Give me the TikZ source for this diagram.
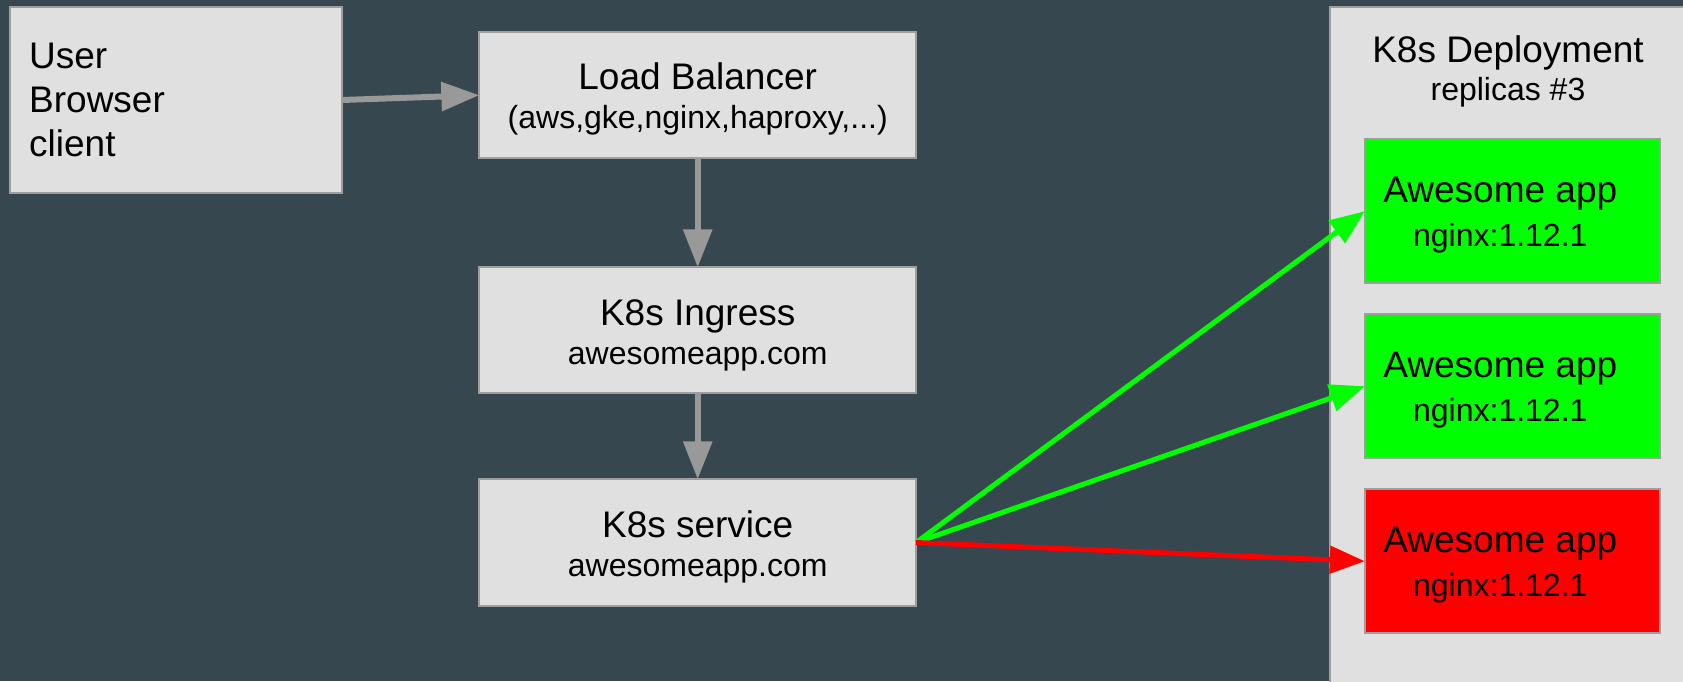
\documentclass[tikz,border=0pt]{standalone}
\usepackage{fontspec}
\setmainfont{Liberation Sans}
\usetikzlibrary{positioning, arrows.meta}
\definecolor{bg}{HTML}{37474F}
\definecolor{boxfill}{HTML}{E0E0E0}
\definecolor{boxline}{HTML}{9E9E9E}
\definecolor{linkgray}{HTML}{999999}
\definecolor{podgreen}{HTML}{00FF00}
\definecolor{podred}{HTML}{FF0000}
\newcommand{\boxtitle}[1]{{\fontsize{37}{39}\selectfont\rule{0pt}{35pt}#1}}
\newcommand{\podtext}{{\fontsize{37}{44}\selectfont\rule{0pt}{33pt}Awesome app}\hspace*{24pt}\\nginx:1.12.1\hspace*{24pt}}
\tikzset{%
  box/.style={draw=boxline, fill=boxfill, line width=2pt, rectangle, inner sep=0pt,
    outer sep=0pt, align=center, font=\fontsize{32}{39}\selectfont},
  pod/.style={box, minimum width=295pt, minimum height=144.5pt, font=\fontsize{32}{44}\selectfont},
  link/.style={draw=linkgray, line width=6pt, -{Triangle[length=38pt,width=28pt]}},
  live/.style={draw=podgreen, line width=5pt, -{Triangle[length=35pt,width=27pt]}},
  dead/.style={draw=podred, line width=5pt, -{Triangle[length=35pt,width=27pt]}},
}
\begin{document}
\begin{tikzpicture}[x=1pt, y=-1pt]
      \fill[bg] (0,0) rectangle (1683,681);
      \useasboundingbox (0,0) rectangle (1683,681);
      \node[box, align=left, text width=294pt, inner xsep=19pt, minimum height=185.4pt,
        font=\fontsize{37}{43.7}\selectfont] (usr) at (176.2,100) {User\\Browser\\client};
      \node[box, minimum width=436.7pt, minimum height=126.3pt] (lb) at (697.7,95.2)
        {\boxtitle{Load Balancer}\\(aws,gke,nginx,haproxy,...)};
      \node[box, minimum width=436.7pt, minimum height=126pt, below=109pt of lb] (ing)
        {\boxtitle{K8s Ingress}\\awesomeapp.com};
      \node[box, minimum width=436.7pt, minimum height=126.3pt, below=86pt of ing] (svc)
        {\boxtitle{K8s service}\\awesomeapp.com};
      \node[box, minimum width=356pt, minimum height=690pt, anchor=north west] (dep) at (1330,7.3) {};
      \node[below=28.5pt of dep.north, inner sep=0pt, align=center,
        font=\fontsize{32}{38}\selectfont] (deptitle)
        {{\fontsize{37}{38}\selectfont K8s Deployment}\\replicas \#3};
      \node[pod, fill=podgreen] (p1) at (1512.3,211.2) {\podtext};
      \node[pod, fill=podgreen, below=30.5pt of p1] (p2) {\podtext};
      \node[pod, fill=podred, below=30.5pt of p2] (p3) {\podtext};
      \draw[link] (usr.east) -- (lb.west);
      \draw[link] (lb) -- (ing);
      \draw[link] (ing) -- (svc);
      \draw[live] (svc.east) -- (p1.west);
      \draw[live] (svc.east) -- (p2.west);
      \draw[dead] (svc.east) -- (p3.west);
\end{tikzpicture}
\end{document}
